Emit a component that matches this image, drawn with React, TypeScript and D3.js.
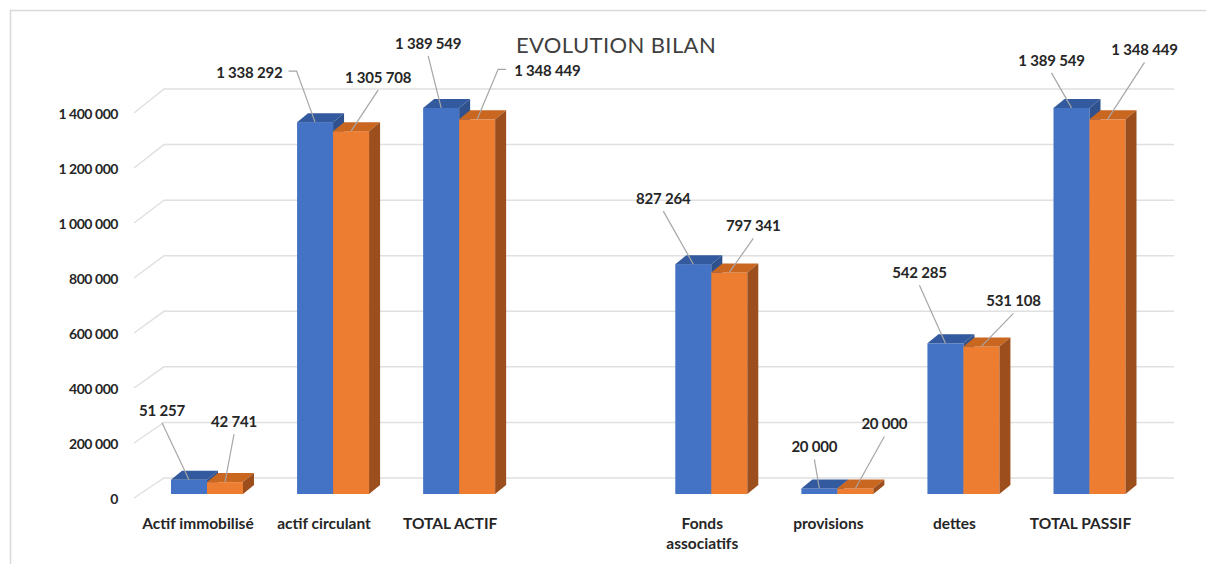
import React from "react";
import * as d3 from "d3";

// ---- data ----
const categories: string[] = [
  "Actif immobilisé",
  "actif circulant",
  "TOTAL ACTIF",
  "",
  "Fonds associatifs",
  "provisions",
  "dettes",
  "TOTAL PASSIF",
];
const seriesA: (number | null)[] = [51257, 1338292, 1389549, null, 827264, 20000, 542285, 1389549];
const seriesB: (number | null)[] = [42741, 1305708, 1348449, null, 797341, 20000, 531108, 1348449];
const yTicks: number[] = [0, 200000, 400000, 600000, 800000, 1000000, 1200000, 1400000];
const title = "EVOLUTION BILAN";

// ---- layout (not data) ----
type LabelPos = { dx: number; dy: number; anchor: "middle" | "start" | "end" } | null;
const labelPosA: LabelPos[] = [
  { dx: -27, dy: -70, anchor: "middle" },
  { dx: -32.5, dy: -50, anchor: "end" },
  { dx: -13, dy: -65, anchor: "middle" },
  null,
  { dx: -30, dy: -66, anchor: "middle" },
  { dx: -5, dy: -42, anchor: "middle" },
  { dx: -26, dy: -71, anchor: "middle" },
  { dx: -20, dy: -48, anchor: "middle" },
];
const labelPosB: LabelPos[] = [
  { dx: 9, dy: -61, anchor: "middle" },
  { dx: 27, dy: -54, anchor: "middle" },
  { dx: 37, dy: -49, anchor: "start" },
  null,
  { dx: 24, dy: -47, anchor: "middle" },
  { dx: 29, dy: -65, anchor: "middle" },
  { dx: 32, dy: -46, anchor: "middle" },
  { dx: 37, dy: -70, anchor: "middle" },
];
const wrapCategory = [false, false, false, false, true, false, false, false];

const W = 1206;
const H = 564;
const BAR_W = 36;
const DX = 11;
const DY = 9;
const BASE = 494;
const FONT = "Lato, 'Open Sans', sans-serif";
const TEXT = "#262626";

const colorsA = { front: "#4472C4", top: "#335A9E", side: "#2F528F" };
const colorsB = { front: "#ED7D31", top: "#C96620", side: "#9C4F1D" };

const locale = d3.formatLocale({ decimal: ",", thousands: " ", grouping: [3], currency: ["", " €"] });
const fmt = locale.format(",");

export default function App() {
  const yBack = d3.scaleLinear().domain([0, 1400000]).range([478, 89]);
  const yFront = d3.scaleLinear().domain([0, 1400000]).range([498, 113]);
  const yBar = d3.scaleLinear().domain([0, 1400000]).range([BASE, BASE - 389]);
  const x = d3.scalePoint<number>().domain(d3.range(categories.length)).range([207, 1089.5]);

  const bar = (i: number, v: number | null, left: boolean, c: typeof colorsA, key: string) => {
    if (v == null) return null;
    const cx = x(i)!;
    const x0 = left ? cx - BAR_W : cx;
    const t = yBar(v);
    const topPts = [
      [x0, t],
      [x0 + DX, t - DY],
      [x0 + BAR_W + DX, t - DY],
      [x0 + BAR_W, t],
    ];
    const sidePts = [
      [x0 + BAR_W, t],
      [x0 + BAR_W + DX, t - DY],
      [x0 + BAR_W + DX, BASE - DY],
      [x0 + BAR_W, BASE],
    ];
    return (
      <g key={key}>
        <rect x={x0} y={t} width={BAR_W} height={BASE - t} fill={c.front} />
        <polygon points={topPts.map((p) => p.join(",")).join(" ")} fill={c.top} />
        <polygon points={sidePts.map((p) => p.join(",")).join(" ")} fill={c.side} />
      </g>
    );
  };

  const label = (i: number, v: number | null, left: boolean, pos: LabelPos, key: string) => {
    if (v == null || !pos) return null;
    const bx = x(i)! + (left ? -BAR_W / 2 : BAR_W / 2);
    const by = yBar(v);
    const lx = bx + pos.dx;
    const ly = by + pos.dy;
    let path: string;
    if (pos.anchor === "middle") {
      path = `M${lx},${ly + 13}L${bx},${by}`;
    } else if (pos.anchor === "end") {
      path = `M${lx + 6},${ly - 1}L${lx + 14},${ly - 1}L${bx},${by}`;
    } else {
      path = `M${lx - 8},${ly - 1}L${lx - 16},${ly - 1}L${bx},${by}`;
    }
    return (
      <g key={key}>
        <path d={path} fill="none" stroke="#a6a6a6" strokeWidth={1.2} />
        <text
          x={lx}
          y={ly}
          textAnchor={pos.anchor}
          dominantBaseline="central"
          fontFamily={FONT}
          fontWeight={700}
          fontSize={15}
          letterSpacing={-0.2}
          fill={TEXT}
        >
          {fmt(v)}
        </text>
      </g>
    );
  };

  return (
    <svg width={W} height={H} style={{ position: "absolute", left: 0, top: 0, background: "#fff" }}>
      <rect x={0} y={0} width={W} height={H} fill="#fff" />
      {/* border */}
      <path d={`M10.5,${H}L10.5,10.5L${W},10.5`} fill="none" stroke="#d9d9d9" strokeWidth={1.5} />
      {/* title */}
      <text
        x={616}
        y={44}
        textAnchor="middle"
        dominantBaseline="central"
        fontFamily={FONT}
        fontSize={22}
        letterSpacing={0.4}
        fill="#404040"
      >
        {title}
      </text>
      {/* gridlines */}
      {yTicks.map((v) => (
        <path
          key={"g" + v}
          d={`M134,${yFront(v)}L164,${yBack(v)}L1174,${yBack(v)}`}
          fill="none"
          stroke="#e0e0e0"
          strokeWidth={1.5}
        />
      ))}
      {/* y tick labels */}
      {yTicks.map((v) => (
        <text
          key={"t" + v}
          x={118}
          y={yFront(v)}
          textAnchor="end"
          dominantBaseline="central"
          fontFamily={FONT}
          fontWeight={700}
          fontSize={14}
          letterSpacing={-0.45}
          fill={TEXT}
        >
          {fmt(v)}
        </text>
      ))}
      {/* bars */}
      {categories.map((_, i) => (
        <g key={"b" + i}>
          {bar(i, seriesA[i], true, colorsA, "a" + i)}
          {bar(i, seriesB[i], false, colorsB, "b" + i)}
        </g>
      ))}
      {/* data labels */}
      {categories.map((_, i) => (
        <g key={"l" + i}>
          {label(i, seriesA[i], true, labelPosA[i], "la" + i)}
          {label(i, seriesB[i], false, labelPosB[i], "lb" + i)}
        </g>
      ))}
      {/* category labels */}
      {categories.map((c, i) => {
        if (!c) return null;
        const cx = x(i)! - 9;
        const lines = wrapCategory[i] ? c.split(" ") : [c];
        return (
          <text
            key={"c" + i}
            x={cx}
            y={523}
            textAnchor="middle"
            dominantBaseline="central"
            fontFamily={FONT}
            fontWeight={700}
            fontSize={15.5}
            fill={TEXT}
          >
            {lines.map((ln, k) => (
              <tspan key={k} x={cx} dy={k === 0 ? 0 : 20}>
                {ln}
              </tspan>
            ))}
          </text>
        );
      })}
    </svg>
  );
}
